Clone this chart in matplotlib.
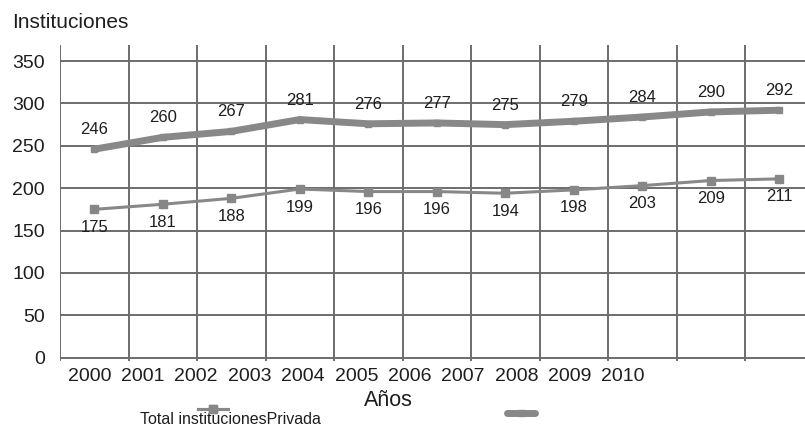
import matplotlib
matplotlib.use('Agg')
import matplotlib.pyplot as plt
import numpy as np

plt.rcParams['font.family'] = ['Liberation Sans', 'DejaVu Sans']

years = ['2000', '2001', '2002', '2003', '2004', '2005',
         '2006', '2007', '2008', '2009', '2010']
total = [246, 260, 267, 281, 276, 277, 275, 279, 284, 290, 292]
privada = [175, 181, 188, 199, 196, 196, 194, 198, 203, 209, 211]

lineColor = '#888888'
gridColor = '#6c6c6c'
textColor = '#1e1e1e'

fig = plt.figure(figsize=(8.05, 4.28), dpi=100)
# the original is cut at the right edge, so the axes run past it
ax = fig.add_axes([60 / 805, 1 - 361 / 428, 753.5 / 805, 316 / 428])

pos = np.arange(len(total))

lTotal, = ax.plot(pos, total, color=lineColor, linewidth=5,
                  marker='s', markersize=5, solid_capstyle='round',
                  zorder=3)
lPriv, = ax.plot(pos, privada, color=lineColor, linewidth=2.2,
                 marker='s', markersize=6, markerfacecolor='#878787',
                 markeredgecolor='#878787', zorder=3)

for i in range(len(total)):
    ax.annotate(str(total[i]), (pos[i], total[i]), xytext=(0, 14),
                textcoords='offset points', ha='center', va='center',
                fontsize=12, color=textColor)
    ax.annotate(str(privada[i]), (pos[i], privada[i]), xytext=(0, -13),
                textcoords='offset points', ha='center', va='center',
                fontsize=12, color=textColor)

ax.set_xlim(-0.5, len(total) - 0.5)
ax.set_ylim(-4, 369)

# cell borders as grid
ax.set_xticks(np.arange(-0.5, len(total), 1.0), minor=True)
ax.grid(which='minor', axis='x', color=gridColor, linewidth=1.4)
ax.set_yticks(np.arange(0, 351, 50))
ax.grid(which='major', axis='y', color=gridColor, linewidth=1.4)

# year labels do not line up with the points in the original
labelPos = -0.07 + 0.779 * np.arange(len(years))
ax.set_xticks(labelPos)
ax.set_xticklabels(years)
ax.tick_params(axis='x', which='both', length=0, pad=5, labelsize=14,
               labelcolor=textColor)
ax.tick_params(axis='y', length=0, pad=11, labelsize=14,
               labelcolor=textColor)

for s in ax.spines.values():
    s.set_visible(False)
ax.set_axisbelow(True)

fig.text(12 / 805, 1 - 22 / 428, 'Instituciones', fontsize=15,
         color=textColor, ha='left', va='center')
fig.text(388 / 805, 1 - 400 / 428, 'Años', fontsize=15.5,
         color=textColor, ha='center', va='center')
fig.text(140 / 805, 1 - 419 / 428, 'Total institucionesPrivada',
         fontsize=11.5, color=textColor, ha='left', va='center')

leg1 = fig.legend([lPriv], [''], loc='center',
                  bbox_to_anchor=(213 / 805, 1 - 410 / 428),
                  frameon=False, handlelength=2.4, handletextpad=0,
                  borderpad=0, fontsize=9)
leg2 = fig.legend([lTotal], [''], loc='center',
                  bbox_to_anchor=(521 / 805, 1 - 414 / 428),
                  frameon=False, handlelength=2.2, handletextpad=0,
                  borderpad=0, fontsize=9)
fig.add_artist(leg1)

fig.savefig('out.png', dpi=100)
